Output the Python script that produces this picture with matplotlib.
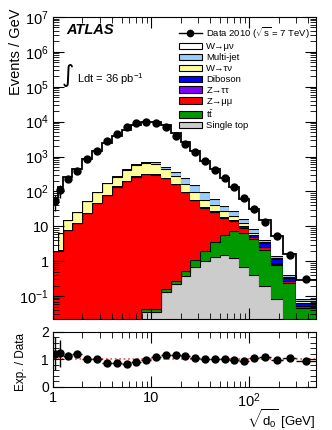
import numpy as np
import matplotlib
matplotlib.use('Agg')
import matplotlib.pyplot as plt
from matplotlib.ticker import LogLocator, FuncFormatter, MultipleLocator, NullFormatter, FixedLocator, NullLocator
from matplotlib.patches import Patch
from matplotlib.lines import Line2D

plt.rcParams['font.family'] = ['Liberation Sans', 'DejaVu Sans']
plt.rcParams['mathtext.fontset'] = 'custom'
plt.rcParams['mathtext.rm'] = 'Liberation Sans'
plt.rcParams['mathtext.it'] = 'Liberation Sans:italic'
plt.rcParams['mathtext.bf'] = 'Liberation Sans:bold'
plt.rcParams['mathtext.sf'] = 'Liberation Sans'

# ---------------- data ----------------
bin_edges = [1.0, 1.12, 1.26, 1.58, 2.0, 2.51, 3.16, 3.98, 5.01, 6.31, 7.94, 10.0,
             12.6, 15.8, 20.0, 25.1, 31.6, 39.8, 50.1, 63.1, 79.4, 100.0, 126.0,
             168.0, 224.0, 299.0, 479.0]

data = [54, 108, 231, 373, 843, 1480, 2750, 4460, 6830, 8890, 9930, 9000, 6830,
        3950, 2310, 1320, 753, 423, 238, 134, 64.7, 31, 13.6, 5.25, 1.53, 0.30]
data_relerr = [0.5, 0.4, 0.12, 0.08, 0.05, 0.035, 0.03, 0.025, 0.02, 0.02, 0.02, 0.02,
               0.02, 0.02, 0.025, 0.03, 0.035, 0.04, 0.045, 0.05, 0.06, 0.07, 0.08,
               0.09, 0.1, 0.12]

single_top = [0, 0, 0, 0, 0, 0, 0, 0, 0, 0, 0.035, 0.035, 0.13, 0.216, 0.38, 0.7,
              1.0, 1.34, 1.55, 1.25, 0.7, 0.4, 0.2, 0.08, 0, 0]
ttbar = [0, 0, 0, 0, 0, 0, 0, 0, 0, 0, 0.009, 0.007, 0.03, 0.064, 0.14, 0.36, 0.95,
         2.16, 4.25, 5.95, 5.8, 3.9, 1.96, 0.69, 0.23, 0.046]
zmumu = [1.9, 2.0, 8.0, 12.5, 24, 47, 80, 138, 193, 265, 307, 305, 241, 160, 94.5,
         54, 31.5, 21.5, 11.6, 6.7, 2.5, 0.7, 0.34, 0.09, 0.04, 0.006]
ztautau = [0.02, 0.03, 0.05, 0.1, 0.2, 0.35, 0.6, 1.0, 1.5, 2.0, 2.0, 1.8, 1.5, 1.0,
           0.6, 0.35, 0.2, 0.12, 0.07, 0.04, 0.03, 0.015, 0.01, 0.004, 0.001, 0.0003]
diboson = [0.001, 0.002, 0.005, 0.01, 0.05, 0.15, 0.4, 1.0, 1.5, 3.0, 3.0, 3.2, 3.5,
           3.0, 2.4, 1.65, 1.3, 1.5, 1.6, 1.4, 1.2, 0.8, 0.8, 0.26, 0.066, 0.013]
wtaunu = [0.05, 4.5, 6.8, 12.4, 27.7, 46.5, 93, 119, 224, 310, 338, 320, 190, 106, 68,
          37, 22, 13, 8, 4.5, 2.0, 0.8, 0.24, 0.1, 0.024, 0.005]
multijet = [0, 0, 0.1, 0.3, 1, 4, 6, 11, 20, 30, 40, 50, 82, 88, 75, 56, 37, 22, 12,
            8, 3.5, 1.6, 0.4, 0.17, 0.03, 0.01]
wmunu = [63, 124.5, 246, 423, 790, 1382, 2240, 3655, 5300, 7300, 8940, 9130, 7470,
         4260, 2350, 1250, 659, 365, 201, 105, 46, 24, 10.8, 3.8, 1.2, 0.2]

stack_names = ['Single top', r'$\mathrm{t}\bar{\mathrm{t}}$', 'Z→μμ', 'Z→ττ', 'Diboson',
               'W→τν', 'Multi-jet', 'W→μν']
stack_values = [single_top, ttbar, zmumu, ztautau, diboson, wtaunu, multijet, wmunu]
stack_colors = ['#cccccc', '#009900', '#ff0000', '#7f00ff', '#0000ff', '#ffff99',
                '#99ccff', '#ffffff']

# ---------------- figure ----------------
fig = plt.figure(figsize=(3.32, 4.30), dpi=100)
ax = fig.add_axes([0.1596, 0.258, 0.7915, 0.7025])
axr = fig.add_axes([0.1596, 0.100, 0.7915, 0.129])

edges = np.array(bin_edges)
centers = np.sqrt(edges[:-1] * edges[1:])
floor = 1e-4

bottom = np.zeros(len(data))
for i, (vals, col) in enumerate(zip(stack_values, stack_colors)):
    top = bottom + np.array(vals, dtype=float)
    ax.stairs(np.maximum(top, floor), edges, baseline=np.maximum(bottom, floor),
              fill=True, color=col, lw=0)
    lw = 1.3 if i == len(stack_values) - 1 else 0.8
    ax.stairs(np.maximum(top, floor), edges, baseline=None, color='black', lw=lw)
    bottom = top
total = bottom

d = np.array(data, dtype=float)
derr = d * np.array(data_relerr)
ax.errorbar(centers, d, yerr=derr, fmt='o', color='black', ms=5, elinewidth=1,
            capsize=0, zorder=5)

ax.set_xscale('log')
ax.set_yscale('log')
ax.set_xlim(edges[0], edges[-1])
ax.set_ylim(0.022, 1e7)


def logfmt(v, pos):
    e = int(round(np.log10(v)))
    if e == 0:
        return '1'
    if e == 1:
        return '10'
    return r'$10^{%d}$' % e


ax.yaxis.set_major_locator(LogLocator(base=10, numticks=20))
ax.yaxis.set_minor_locator(LogLocator(base=10, subs=np.arange(2, 10), numticks=20))
ax.yaxis.set_major_formatter(FuncFormatter(logfmt))
ax.yaxis.set_minor_formatter(NullFormatter())
ax.xaxis.set_major_locator(LogLocator(base=10, numticks=10))
ax.xaxis.set_minor_locator(LogLocator(base=10, subs=np.arange(2, 10), numticks=10))
ax.xaxis.set_major_formatter(NullFormatter())
ax.xaxis.set_minor_formatter(NullFormatter())
for a in (ax, axr):
    a.tick_params(which='both', direction='in', top=True, right=True, labelsize=10.5,
                  pad=3)
    a.tick_params(which='major', length=8, width=0.8)
    a.tick_params(which='minor', length=4, width=0.6)
ax.tick_params(axis='x', labelbottom=False)

ax.set_ylabel('Events / GeV', fontsize=10.5)
ax.yaxis.set_label_coords(-0.115, 0.885)

# legend
handles = [Line2D([0], [0], color='black', marker='o', ms=4.5, lw=1)]
labels = [r'Data 2010 ($\sqrt{\mathrm{s}}$ = 7 TeV)']
for name, col in zip(stack_names[::-1], stack_colors[::-1]):
    handles.append(Patch(facecolor=col, edgecolor='black', lw=0.8))
    labels.append(name)
ax.legend(handles, labels, loc='upper left', bbox_to_anchor=(179 / 332, 1 - 25 / 430),
          bbox_transform=fig.transFigure, frameon=False, fontsize=6.8,
          handlelength=2.4, handleheight=0.7, handletextpad=0.5, labelspacing=0.2,
          borderpad=0, borderaxespad=0)

fig.text(66.7 / 332, 1 - 30 / 430, 'ATLAS', fontsize=10.5, fontweight='bold',
         fontstyle='italic', va='center', ha='left')
fig.text(62 / 332, 1 - 75 / 430, '∫', fontsize=17, va='center', ha='left',
         family=['DejaVu Sans'])
fig.text(77 / 332, 1 - 79 / 430, r'Ldt = 36 pb$^{-1}$', fontsize=8, va='center',
         ha='left')

# ---------------- ratio ----------------
ratio = total / d
rerr = ratio * np.array(data_relerr)
xerr = np.vstack([centers - edges[:-1], edges[1:] - centers])
axr.axhline(1.0, color='#ff4444', ls=':', lw=1.2, zorder=1)
axr.errorbar(centers, ratio, yerr=rerr, xerr=xerr, fmt='o', color='black', ms=5,
             elinewidth=1, capsize=0, zorder=5)
axr.set_xscale('log')
axr.set_xlim(edges[0], edges[-1])
axr.set_ylim(0, 2)
axr.yaxis.set_major_locator(FixedLocator([0, 1, 2]))
axr.yaxis.set_minor_locator(MultipleLocator(0.2))
axr.xaxis.set_major_locator(LogLocator(base=10, numticks=10))
axr.xaxis.set_minor_locator(LogLocator(base=10, subs=np.arange(2, 10), numticks=10))
axr.xaxis.set_major_formatter(FuncFormatter(logfmt))
axr.xaxis.set_minor_formatter(NullFormatter())
axr.tick_params(axis='y', labelsize=10)
axr.set_ylabel('Exp. / Data', fontsize=8.5)
axr.yaxis.set_label_coords(-0.1, 0.456)
axr.set_xlabel(r'$\sqrt{\mathrm{d_0}}$ [GeV]', fontsize=9.5, loc='right')
axr.xaxis.set_label_coords(1.0, -0.36)
axr.xaxis.label.set_va('top')

fig.savefig('out.png', dpi=100)
